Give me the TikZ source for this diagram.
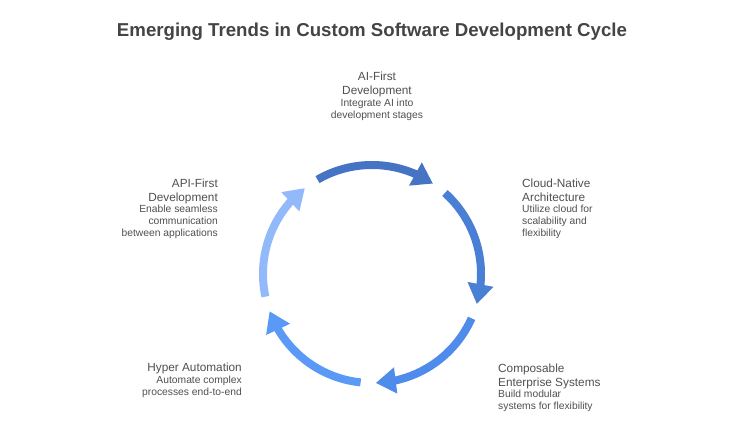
\documentclass[tikz,border=0pt]{standalone}
\usepackage{fontspec}
\setmainfont{Liberation Sans}
\usetikzlibrary{arrows.meta,bending,calc}
\definecolor{txt}{HTML}{505050}
\definecolor{ttl}{HTML}{444444}
\definecolor{aone}{HTML}{4674C4}
\definecolor{atwo}{HTML}{4A7FD6}
\definecolor{athree}{HTML}{4F8BEA}
\definecolor{afour}{HTML}{5A9AF6}
\definecolor{afive}{HTML}{92BAFB}
\begin{document}
\begin{tikzpicture}[x=1pt,y=1pt,
  cyc/.style={line width=8pt,-{Triangle[width=25pt,length=20pt,flex]}},
  head/.style={inner sep=0pt,text=txt,font=\fontsize{11.8}{13.5}\selectfont},
  desc/.style={inner sep=0pt,text=txt,font=\fontsize{10.3}{12}\selectfont},
  maintitle/.style={inner sep=0pt,text=ttl,font=\bfseries\fontsize{18}{22}\selectfont}
]
\useasboundingbox (0,0) rectangle (736,447);
\fill[white] (0,0) rectangle (736,447);
\coordinate (c) at (372,173);
\def\R{109}
\node[maintitle] (title) at (372,415) {\resizebox{510pt}{!}{Emerging Trends in Custom Software Development Cycle}};
% arrows
\draw[cyc,aone]   ($(c)+(120:\R)$) arc[start angle=120, end angle=56, radius=\R];
\draw[cyc,atwo]   ($(c)+(48:\R)$) arc[start angle=48, end angle=-16, radius=\R];
\draw[cyc,athree] ($(c)+(-24:\R)$) arc[start angle=-24, end angle=-88, radius=\R];
\draw[cyc,afour]  ($(c)+(-96:\R)$) arc[start angle=-96, end angle=-160, radius=\R];
\draw[cyc,afive]  ($(c)+(192:\R)$) arc[start angle=192, end angle=128, radius=\R];
% labels
\node[head,align=center,anchor=north] (aih) at (377,447-72) {AI-First\\Development};
\node[desc,align=center,anchor=north] (aid) at (377,447-99) {Integrate AI into\\development stages};
\node[head,align=left,anchor=north west] (cnh) at (522,447-179) {Cloud-Native\\Architecture};
\node[desc,align=left,anchor=north west] (cnd) at (522,447-205) {Utilize cloud for\\scalability and\\flexibility};
\node[head,align=left,anchor=north west] (ceh) at (498,447-364) {Composable\\Enterprise Systems};
\node[desc,align=left,anchor=north west] (ced) at (498,447-390) {Build modular\\systems for flexibility};
\node[head,align=right,anchor=north east] (hah) at (242,447-363) {Hyper Automation};
\node[desc,align=right,anchor=north east] (had) at (242,447-376) {Automate complex\\processes end-to-end};
\node[head,align=right,anchor=north east] (aph) at (218,447-179) {API-First\\Development};
\node[desc,align=right,anchor=north east] (apd) at (218,447-205) {Enable seamless\\communication\\between applications};
\end{tikzpicture}
\end{document}
